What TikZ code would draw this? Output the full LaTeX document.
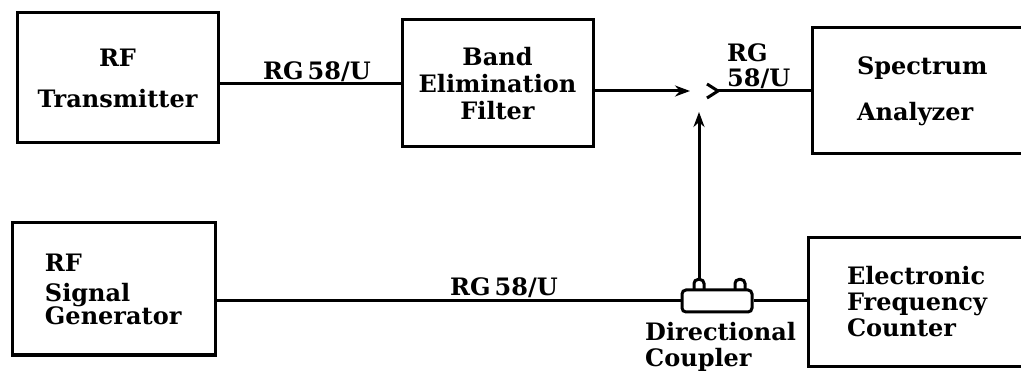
\documentclass[tikz,border=0pt]{standalone}
\usepackage{fontspec}
\setmainfont{DejaVu Serif}
\usetikzlibrary{arrows.meta}

\tikzset{
  block/.style={draw, line width=3pt, inner sep=0pt},
  wire/.style={line width=3pt},
  feed/.style={wire, -{Stealth[length=15pt,width=11pt]}},
  plug/.style={draw, line width=3pt, rounded corners=4pt, inner sep=0pt, fill=white},
}

\begin{document}
\begin{tikzpicture}[x=1pt,y=-1pt,font=\fontsize{24}{27}\selectfont\bfseries]
\useasboundingbox (0,0) rectangle (1021,374);
% top row
\node[block, minimum width=201, minimum height=130, align=center] (trans) at (117.5,78) {RF\\[14pt]Transmitter};
\node[block, minimum width=191, minimum height=127, align=center] (filter) at (497.5,83.5) {Band\\Elimination\\Filter};
\node[block, minimum width=228, minimum height=126, text width=138, align=left] (spec) at (926,91) {Spectrum\\[19pt]Analyzer};
\coordinate (tipA) at (690,91);
\coordinate (jack) at (718,91);
\coordinate (tipB) at (699,112);
% bottom row
\node[block, minimum width=203, minimum height=132, text width=137, align=left] (gen) at (113.5,289) {RF\\[3pt]Signal\\[-4pt]Generator};
\node[block, minimum width=232, minimum height=128, text width=154, align=left] (counter) at (924,302) {Electronic\\[-1pt]Frequency\\[-1pt]Counter};
\node[plug, minimum width=10, minimum height=16, anchor=north] (nubA) at (699,278) {};
\node[plug, minimum width=10, minimum height=16, anchor=north] (nubB) at (740,278) {};
\node[plug, minimum width=70, minimum height=22] (coupler) at (717,301) {};
% cables
\draw[wire] (filter.west -| trans.east) -- (filter.west);
\draw[feed] (tipA -| filter.east) -- (tipA);
\draw[wire] (jack) ++(-11,-7) -- (jack) -- ++(-11,7);
\draw[wire] (jack) -- (jack -| spec.west);
\draw[feed] (nubA.north) -- (tipB);
\draw[wire] (coupler.west -| gen.east) -- (coupler.west);
\draw[wire] (coupler.east) -- (coupler.east -| counter.west);
% labels
\node[anchor=base, inner sep=0pt] (cabA) at (317,80) {RG\,58/U};
\node[anchor=south west, align=left, inner sep=0pt] (cabB) at (727,89) {RG\\[-2pt]58/U};
\node[anchor=south, inner sep=0pt] (cabC) at (504,298) {RG\,58/U};
\node[anchor=north west, align=left, inner sep=0pt] (dclab) at (645,322) {Directional\\[-1pt]Coupler};
\end{tikzpicture}
\end{document}
